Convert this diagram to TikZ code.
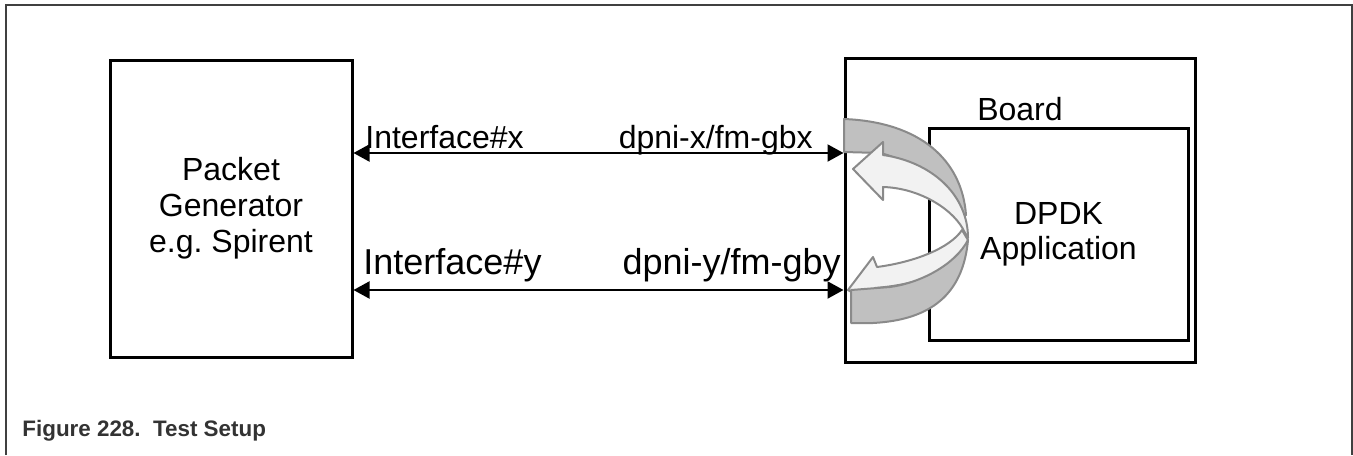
\documentclass[tikz,border=0pt]{standalone}
\usepackage{fontspec}
\setmainfont{Liberation Sans}
\usetikzlibrary{arrows.meta, positioning, calc}
\definecolor{framegray}{RGB}{64, 64, 64}
\definecolor{bandgray}{RGB}{192, 192, 192}
\definecolor{bandedge}{RGB}{138, 138, 138}
\definecolor{foldwhite}{RGB}{242, 242, 242}
\definecolor{captiongray}{RGB}{51, 51, 51}
\tikzset{
  unitbox/.style={draw, line width=1.5pt, rectangle, inner sep=0pt, align=center, font=\fontsize{16}{18}\selectfont},
  portlink/.style={line width=1pt, {Triangle[length=8pt,width=8.5pt]}-{Triangle[length=8pt,width=8.5pt]}},
  portlabel/.style={inner sep=0pt, font=\fontsize{16}{18}\selectfont},
  bigportlabel/.style={inner sep=0pt, font=\fontsize{18}{20}\selectfont},
  backband/.style={fill=bandgray, draw=bandedge, line width=1pt, line join=round},
  frontband/.style={fill=foldwhite, draw=bandedge, line width=1pt, line join=round}
}
\frenchspacing
\begin{document}
\begin{tikzpicture}[x=0.5pt, y=-0.5pt]
        \useasboundingbox (0,0) rectangle (1353,455);
        % Outer frame
        \draw[framegray, line width=1pt] (6,455) -- (6,5) -- (1352,5) -- (1352,455);

        % Boxes
        \node[unitbox, minimum width=121pt, minimum height=148.5pt] (gen) at (231,208.5) {Packet\\Generator\\e.g. Spirent};
        \node[unitbox, minimum width=175pt, minimum height=152pt] (board) at (1020,210) {};
        \node[unitbox, minimum width=129.5pt, minimum height=106pt, font=\fontsize{16}{17.5}\selectfont] (dpdk) at (1058.5,234) {DPDK\\Application};
        \node[portlabel, anchor=base] (boardlabel) at (1020,120) {Board};

        % Links
        \coordinate (rowx) at (0,153);
        \coordinate (rowy) at (0,290);
        \draw[portlink] (gen.east |- rowx) -- (board.west |- rowx);
        \draw[portlink] (gen.east |- rowy) -- (board.west |- rowy);
        \node[portlabel, anchor=base west] (ifx) at (365,148) {Interface\#x};
        \node[portlabel, anchor=base east] (dpnix) at (813,148) {dpni-x/fm-gbx};
        \node[bigportlabel, anchor=base west] (ify) at (363,274) {Interface\#y};
        \node[bigportlabel, anchor=base east] (dpniy) at (841,274) {dpni-y/fm-gby};

        % Loopback ribbon, upper half
        \draw[backband] (844,119) .. controls (920,122) and (962,160) .. (966,215)
          -- (960,215) .. controls (945,185) and (910,160) .. (880,153) -- (844,152) -- cycle;
        \draw[frontband] (968,238) .. controls (968,195) and (932,162) .. (883,155)
          -- (883,142) -- (853,169) -- (883,200) -- (883,187)
          .. controls (920,188) and (955,210) .. (965,233) -- cycle;
        % Loopback ribbon, lower half
        \draw[frontband] (962,230) .. controls (950,248) and (915,262) .. (877,267)
          -- (873,257) -- (848,290) -- (873,305) -- (875,288)
          .. controls (925,284) and (960,268) .. (968,240) -- cycle;
        \draw[backband] (968,240) .. controls (955,265) and (920,283) .. (890,287) -- (851,290)
          -- (851,323) -- (873,323) .. controls (930,320) and (963,295) .. (968,240) -- cycle;

        % Caption
        \node[anchor=base west, inner sep=0pt, text=captiongray, font=\fontsize{11.2}{13}\selectfont\bfseries] (caption) at (22,436) {Figure 228.\ \ Test Setup};
\end{tikzpicture}
\end{document}
